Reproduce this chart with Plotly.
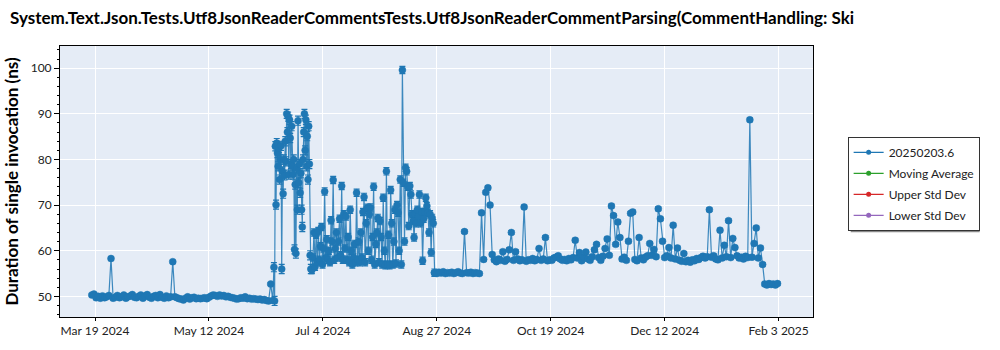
import pandas as pd
import plotly.graph_objects as go

# ---------------- data ----------------
series_name = "20250203.6"

# Segment 1: daily samples
seg1_start = "2024-03-18 00:00"
seg1_step_hours = 24
seg1_values = [
    50.3, 50.5, 49.7, 50.0, 49.6, 50.1, 49.7, 49.9, 50.2, 58.3, 49.6, 49.8, 50.2, 49.7,
    49.9, 50.3, 49.6, 49.9, 50.1, 50.4, 49.8, 49.7, 50.0, 50.3, 49.6, 50.1, 50.4, 49.8, 49.6,
    50.0, 50.2, 49.7, 50.4, 49.8, 49.6, 50.1, 49.7, 49.9, 57.6, 49.9, 49.7, 49.5, 49.4, 49.2,
    49.6, 49.9, 49.4, 49.7, 49.8, 49.5, 49.6, 49.5, 49.6, 49.7, 49.5, 49.8, 50.1, 50.3, 50.2,
    50.0, 50.3, 50.1, 50.2, 49.9, 50.0, 49.8, 49.7, 49.6, 49.4, 49.5, 49.7, 49.6, 49.9, 49.5, 49.6,
    49.4, 49.5, 49.4, 49.3, 49.4, 49.2, 49.3, 49.1, 49.0, 52.7, 49.1,
]
seg1_error = 0.3

# Segment 2a: volatile high period, 8-hour samples
seg2a_start = "2024-06-11 12:00"
seg2a_step_hours = 8
seg2a_values = [
    56.4, 49.0, 82.9, 70.1, 83.6, 81.4, 78.5, 82.5, 75.6, 80.0,
    83.0, 56.0, 77.4, 72.5, 80.0, 76.5, 84.0, 79.6, 90.0, 86.0,
    89.4, 76.7, 88.7, 84.7, 79.0, 87.3, 78.5, 76.7, 80.0, 60.3,
    74.5, 59.4, 78.0, 69.0, 88.5, 74.9, 79.0, 72.7, 77.0, 69.0,
    65.2, 80.0, 86.0, 90.0, 82.0, 88.7, 78.5, 85.1, 75.6, 87.3,
    79.0, 59.0, 56.0,
]
seg2a_error = 1.0

# Segment 2b: volatile lower period, 12-hour samples
seg2b_start = "2024-06-29 08:00"
seg2b_step_hours = 12
seg2b_values = [
    55.8, 58.5, 64.0, 56.5, 63.5, 57.5, 64.3, 58.0, 61.0, 65.2,
    57.0, 60.5, 73.0, 58.5, 62.5, 58.0, 60.0, 57.5, 66.7, 62.0,
    75.5, 58.0, 60.5, 64.0, 58.5, 62.0, 67.0, 59.0, 74.2, 58.0,
    68.0, 60.5, 67.5, 58.0, 63.0, 57.5, 69.0, 60.0, 57.0, 58.5,
    61.5, 57.5, 72.7, 58.0, 62.0, 57.5, 64.0, 58.5, 68.5, 71.8,
    57.5, 66.0, 69.4, 60.0, 68.0, 69.5, 58.0, 63.0, 74.0, 57.0,
    61.5, 64.0, 67.2, 57.5, 66.5, 63.0, 57.0, 71.6, 60.0, 56.8,
    77.4, 57.0, 63.5, 56.8, 73.3, 66.0, 57.0, 62.0, 69.0, 57.2,
    70.0, 68.3, 60.0, 75.6, 57.0, 99.6, 74.9, 62.0, 78.2, 77.4,
    74.0, 65.4, 74.2, 72.3, 68.0, 66.5, 62.9, 68.0, 66.0, 69.0,
    67.5, 72.3, 66.0, 68.5, 57.8, 67.0, 68.5, 71.6, 69.8, 68.3,
    64.0, 68.0, 59.6, 67.2, 66.0, 55.2,
]
seg2b_error = 0.8

# Segment 3: daily samples
seg3_start = "2024-08-26 00:00"
seg3_step_hours = 24
seg3_values = [
    55.2, 55.0, 55.3, 55.1, 55.4, 55.0, 55.2, 55.1, 55.3, 55.0,
    55.2, 55.4, 55.1, 55.0, 64.2, 55.2, 55.1, 55.3, 55.0, 55.2,
    55.1, 55.0, 68.3, 58.1, 72.8, 73.8, 70.0, 59.2, 58.0, 57.6,
    58.2, 57.9, 59.8, 57.7, 58.1, 60.2, 64.0, 57.9, 59.8, 58.2,
    57.8, 58.0, 69.6, 57.7, 58.0, 57.9, 58.3, 57.8, 58.1, 60.5,
    57.9, 58.2, 62.9, 57.8, 58.0, 57.9, 58.4, 58.6, 58.9, 58.2,
    57.9, 58.1, 57.8, 58.3, 58.0, 58.5, 62.3, 58.4, 59.6, 57.8,
    58.6, 59.7, 58.2, 57.9, 58.7, 60.2, 61.4, 58.5, 57.9, 58.8,
    60.5, 62.6, 59.0, 69.8, 67.7, 61.4, 66.3, 62.9, 58.2, 58.6,
    57.9, 62.1, 68.2, 68.5, 58.1, 57.8, 62.9, 58.4, 58.0, 58.6,
    58.9, 61.6, 59.0, 60.3, 58.7, 69.2, 67.0, 62.1, 58.5, 58.9,
    60.7, 58.4, 65.6, 58.2, 60.6, 57.9, 57.7, 59.4, 57.6, 57.9,
    57.5, 58.0, 57.8, 58.3, 58.1, 58.5, 58.8, 58.4, 58.7, 69.0,
    58.6, 58.9, 58.2, 58.0, 64.5, 58.4, 61.2, 58.7, 66.6, 58.5,
    62.7, 60.7, 58.9, 58.4, 58.6, 58.2, 58.8, 58.5, 88.7, 58.6,
    61.6, 65.0, 58.4, 60.6, 57.0, 52.7, 52.5, 52.8, 52.6, 52.7,
    52.5, 52.8,
]
seg3_error = 0.4

legend_names = [series_name, "Moving Average", "Upper Std Dev", "Lower Std Dev"]
legend_colors = ["#1f77b4", "#2ca02c", "#d62728", "#9467bd"]

title_text = ("System.Text.Json.Tests.Utf8JsonReaderCommentsTests."
              "Utf8JsonReaderCommentParsing(CommentHandling: Ski")
y_title = "Duration of single invocation (ns)"

first_tick = "2024-03-19 12:00"
tick_step_days = 53.5
n_ticks = 7
x_range = ["2024-03-03 01:12", "2025-02-19 15:50"]
y_range = [45.48, 104.87]

# ---------------- build ----------------
segments = [
    (seg1_start, seg1_step_hours, seg1_values, seg1_error),
    (seg2a_start, seg2a_step_hours, seg2a_values, seg2a_error),
    (seg2b_start, seg2b_step_hours, seg2b_values, seg2b_error),
    (seg3_start, seg3_step_hours, seg3_values, seg3_error),
]
xs, ys, es = [], [], []
for start, step, vals, err in segments:
    idx = pd.date_range(start=start, periods=len(vals), freq=f"{step}h")
    xs.extend(idx)
    ys.extend(vals)
    es.extend([err] * len(vals))

tickvals = [pd.Timestamp(first_tick) + k * pd.Timedelta(days=tick_step_days) for k in range(n_ticks)]
ticktext = [f"{t.strftime('%b')} {t.day} {t.year}" for t in tickvals]

FONT = "Lato"
fig = go.Figure()
fig.add_trace(go.Scatter(
    x=xs, y=ys, name=legend_names[0], mode="lines+markers", showlegend=False,
    line=dict(color="rgba(31,119,180,0.85)", width=1.2),
    marker=dict(color=legend_colors[0], size=7,
                line=dict(color="rgba(31,119,180,0.45)", width=1)),
    error_y=dict(type="data", array=es, visible=True, color=legend_colors[0],
                 thickness=1.2, width=3),
    legendgroup="g0",
))
# legend entries (small symbols, as in the reference legend)
for i in range(4):
    fig.add_trace(go.Scatter(
        x=[None], y=[None], name=legend_names[i], mode="lines+markers",
        line=dict(color=legend_colors[i], width=1.3),
        marker=dict(color=legend_colors[i], size=5),
        legendgroup=f"g{i}",
    ))

# legend drop shadow
fig.add_shape(type="rect", xref="paper", yref="paper",
              x0=(851 - 54) / 759, x1=(981 - 54) / 759,
              y0=(318 - 233) / 272, y1=(318 - 140) / 272,
              fillcolor="#8a8a8a", line=dict(width=0), layer="above")

fig.update_layout(
    width=1000, height=350,
    margin=dict(l=54, r=187, t=46, b=32),
    paper_bgcolor="white", plot_bgcolor="#E5ECF6",
    font=dict(family=FONT, size=12, color="#222"),
    title=dict(text=f"<b>{title_text}</b>", x=0.01, xanchor="left", xref="container",
               y=1 - 18 / 350, yanchor="middle", yref="container",
               font=dict(family=FONT, size=17, color="black")),
    showlegend=True,
    legend=dict(x=1.046, xanchor="left", y=0.665, yanchor="top",
                bgcolor="white", bordercolor="#333", borderwidth=1,
                font=dict(family=FONT, size=12, color="#222"),
                tracegroupgap=2),
)
fig.update_xaxes(
    type="date", range=x_range, tickvals=tickvals, ticktext=ticktext,
    showgrid=True, gridcolor="white", gridwidth=1,
    showline=True, linecolor="black", linewidth=1, mirror=True,
    ticks="outside", ticklen=3, tickcolor="black", zeroline=False,
)
fig.update_yaxes(
    range=y_range, dtick=10, tick0=0,
    showgrid=True, gridcolor="white", gridwidth=1,
    showline=True, linecolor="black", linewidth=1, mirror=True,
    ticks="outside", ticklen=5, tickcolor="black", zeroline=False,
    minor=dict(dtick=2, ticks="outside", ticklen=2, tickcolor="black", showgrid=False),
    title=dict(text=f"<b>{y_title}</b>", font=dict(family=FONT, size=17, color="black"),
               standoff=7),
)

fig.write_html("out.html")
